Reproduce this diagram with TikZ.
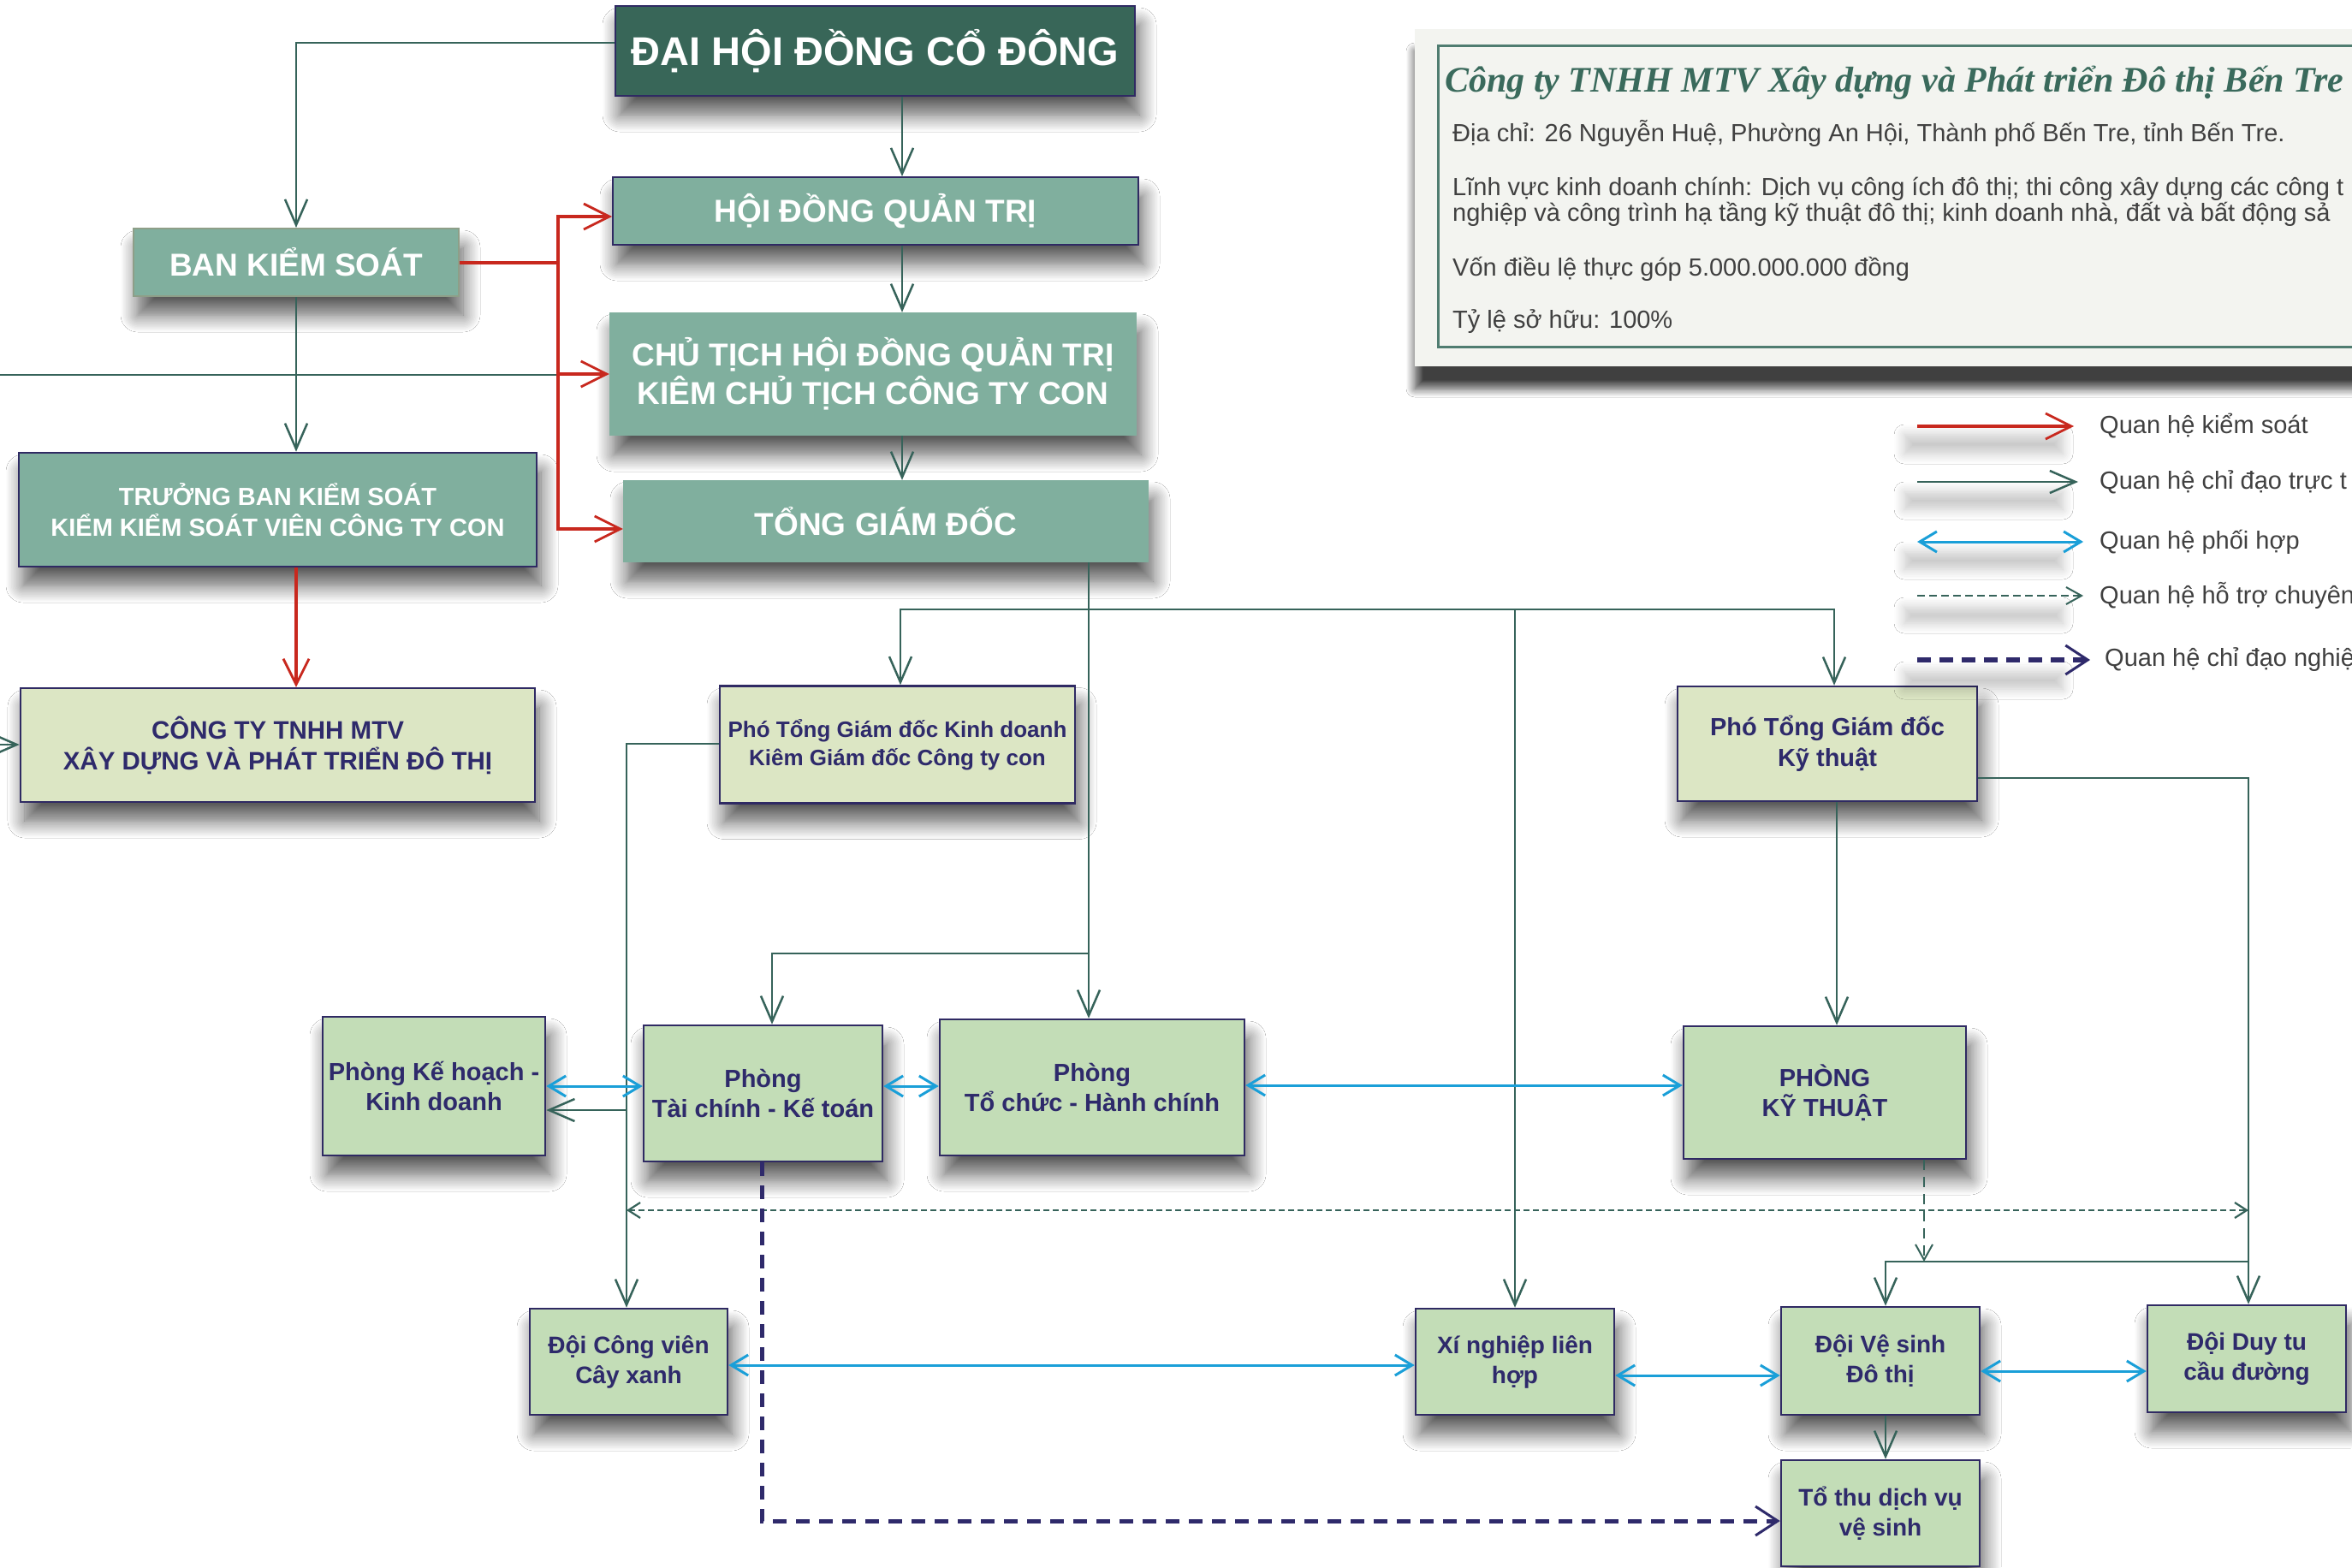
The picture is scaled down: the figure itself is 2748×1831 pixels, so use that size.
\documentclass[tikz,border=0pt]{standalone}
\usepackage{fontspec}
\setmainfont{Liberation Sans}
\newfontfamily\ttlfont{Liberation Serif}
\usetikzlibrary{arrows.meta,shadows.blur,calc}
\definecolor{cDark}{HTML}{386658}
\definecolor{cMid}{HTML}{80AF9E}
\definecolor{cLite}{HTML}{DCE6C4}
\definecolor{cGrn}{HTML}{C3DDB7}
\definecolor{cBorder}{HTML}{2F2A63}
\definecolor{cText}{HTML}{2E2A6B}
\definecolor{cTeal}{HTML}{36635A}
\definecolor{cRed}{HTML}{C8281E}
\definecolor{cBlue}{HTML}{1A9FD8}
\definecolor{cPurp}{HTML}{2F2A6B}
\definecolor{cPanel}{HTML}{F3F4F0}
\definecolor{cPanelLine}{HTML}{4F7C70}
\definecolor{cTitle}{HTML}{3A6A5C}
\definecolor{cGray}{HTML}{404040}
\definecolor{cBksLine}{HTML}{8E9E88}
\tikzset{
  base/.style={rectangle, inner sep=0pt, align=center},
  shd/.style={blur shadow={shadow xshift=5pt, shadow yshift=-22pt, shadow blur radius=20pt, shadow blur steps=14, shadow opacity=65}},
  legshd/.style={blur shadow={shadow xshift=0pt, shadow yshift=0pt, shadow blur radius=12pt, shadow blur steps=8, shadow opacity=22}},
  darkbox/.style={base, shd, fill=cDark, draw=cBorder, line width=2pt, text=white},
  midbox/.style={base, shd, fill=cMid, text=white},
  litebox/.style={base, shd, fill=cLite, draw=cBorder, line width=2.5pt, text=cText},
  grnbox/.style={base, shd, fill=cGrn, draw=cBorder, line width=2.5pt, text=cText},
  ctl/.style={draw=cTeal, line width=2.5pt, -{Straight Barb[length=30pt,width=26pt]}},
  ctlline/.style={draw=cTeal, line width=2.5pt},
  redline/.style={draw=cRed, line width=4.5pt},
  redarr/.style={draw=cRed, line width=4.5pt, -{Straight Barb[length=30pt,width=30pt,line width=2.8pt]}},
  bluearr/.style={draw=cBlue, line width=3pt, {Straight Barb[length=20pt,width=24pt]}-{Straight Barb[length=20pt,width=24pt]}},
  dotarr/.style={draw=cTeal, line width=2.2pt, dash pattern=on 7pt off 4pt, {Straight Barb[length=14pt,width=18pt]}-{Straight Barb[length=14pt,width=18pt]}},
  dasharr/.style={draw=cTeal, line width=2pt, dash pattern=on 12pt off 8pt, -{Straight Barb[length=18pt,width=20pt]}},
  purparr/.style={draw=cPurp, line width=5pt, dash pattern=on 16pt off 11pt, -{Straight Barb[length=26pt,width=34pt,line width=3pt]}},
  infotxt/.style={anchor=base west, inner sep=0pt, text=cGray, font=\fontsize{29}{30}\selectfont},
  legtxt/.style={anchor=west, inner sep=0pt, text=cGray, font=\fontsize{29}{30}\selectfont},
}
\begin{document}
\begin{tikzpicture}[x=1pt,y=-1pt]
\useasboundingbox (0,0) rectangle (2748,1831);
\fill[white] (0,0) rectangle (2748,1831);

% ---------- info panel ----------
\fill[cPanel, blur shadow={shadow xshift=0pt, shadow yshift=-26pt, shadow blur radius=10pt, shadow blur steps=10, shadow opacity=75}] (1653,34) rectangle (2790,428);
\draw[cPanelLine, line width=3pt] (1680,53) rectangle (2800,405);
\node[anchor=base west, inner sep=0pt, text=cTitle, font=\ttlfont\fontsize{42}{46}\selectfont\bfseries\itshape] (title) at (1688,107) {Công ty TNHH MTV Xây dựng và Phát triển Đô thị Bến Tre};
\node[infotxt] (addr) at (1697,165) {Địa chỉ: 26 Nguyễn Huệ, Phường An Hội, Thành phố Bến Tre, tỉnh Bến Tre.};
\node[infotxt] (lv1) at (1697,228) {Lĩnh vực kinh doanh chính: Dịch vụ công ích đô thị; thi công xây dựng các công t};
\node[infotxt] (lv2) at (1697,258) {nghiệp và công trình hạ tầng kỹ thuật đô thị; kinh doanh nhà, đất và bất động sả};
\node[infotxt] (von) at (1697,322) {Vốn điều lệ thực góp 5.000.000.000 đồng};
\node[infotxt] (tyle) at (1697,383) {Tỷ lệ sở hữu: 100\%};

% ---------- nodes ----------
\node[darkbox, minimum width=607pt, minimum height=105pt, font=\fontsize{47}{54}\selectfont\bfseries] (dhdcd) at (1022.5,59.5) {ĐẠI HỘI ĐỒNG CỔ ĐÔNG};
\node[midbox, draw=cBorder, line width=2pt, minimum width=614pt, minimum height=79pt, font=\fontsize{37}{44}\selectfont\bfseries] (hdqt) at (1023,246.5) {HỘI ĐỒNG QUẢN TRỊ};
\node[midbox, draw=cBksLine, line width=2pt, minimum width=380pt, minimum height=79pt, font=\fontsize{37}{44}\selectfont\bfseries] (bks) at (346,306.5) {BAN KIỂM SOÁT};
\node[midbox, minimum width=616pt, minimum height=144pt, font=\fontsize{37}{45}\selectfont\bfseries] (ctht) at (1020,437) {CHỦ TỊCH HỘI ĐỒNG QUẢN TRỊ\\KIÊM CHỦ TỊCH CÔNG TY CON};
\node[midbox, minimum width=614pt, minimum height=96pt, font=\fontsize{37}{44}\selectfont\bfseries] (tgd) at (1035,609) {TỔNG GIÁM ĐỐC};
\node[midbox, draw=cBorder, line width=2.5pt, minimum width=605pt, minimum height=133pt, font=\fontsize{29}{36}\selectfont\bfseries] (tbks) at (324.5,595.5) {TRƯỞNG BAN KIỂM SOÁT\\KIỂM KIỂM SOÁT VIÊN CÔNG TY CON};
\node[litebox, minimum width=601pt, minimum height=133pt, font=\fontsize{29.5}{36}\selectfont\bfseries] (cty) at (324.5,870.5) {CÔNG TY TNHH MTV\\XÂY DỰNG VÀ PHÁT TRIỂN ĐÔ THỊ};
\node[litebox, minimum width=415pt, minimum height=137pt, font=\fontsize{26}{33}\selectfont\bfseries] (ptgdkd) at (1048.5,870) {Phó Tổng Giám đốc Kinh doanh\\Kiêm Giám đốc Công ty con};
\node[litebox, minimum width=350pt, minimum height=134pt, font=\fontsize{29}{36}\selectfont\bfseries] (ptgdkt) at (2135,869) {Phó Tổng Giám đốc\\Kỹ thuật};
\node[grnbox, minimum width=260pt, minimum height=162pt, font=\fontsize{29}{35}\selectfont\bfseries] (khkd) at (507,1269) {Phòng Kế hoạch -\\Kinh doanh};
\node[grnbox, minimum width=279pt, minimum height=159pt, font=\fontsize{29}{35}\selectfont\bfseries] (tckt) at (891.5,1277.5) {Phòng\\Tài chính - Kế toán};
\node[grnbox, minimum width=356pt, minimum height=159pt, font=\fontsize{29}{35}\selectfont\bfseries] (tchc) at (1276,1270.5) {Phòng\\Tổ chức - Hành chính};
\node[grnbox, minimum width=330pt, minimum height=155pt, font=\fontsize{29}{35}\selectfont\bfseries] (pkt) at (2132,1276.5) {PHÒNG\\KỸ THUẬT};
\node[grnbox, minimum width=231pt, minimum height=124pt, font=\fontsize{28}{35}\selectfont\bfseries] (dcv) at (734.5,1591) {Đội Công viên\\Cây xanh};
\node[grnbox, minimum width=232pt, minimum height=124pt, font=\fontsize{28}{35}\selectfont\bfseries] (xn) at (1770,1591) {Xí nghiệp liên\\hợp};
\node[grnbox, minimum width=232pt, minimum height=126pt, font=\fontsize{28}{35}\selectfont\bfseries] (dvs) at (2197,1590) {Đội Vệ sinh\\Đô thị};
\node[grnbox, minimum width=232pt, minimum height=125pt, font=\fontsize{28}{35}\selectfont\bfseries] (ddt) at (2625,1587.5) {Đội Duy tu\\cầu đường};
\node[grnbox, minimum width=232pt, minimum height=124pt, font=\fontsize{28}{35}\selectfont\bfseries] (tothu) at (2197,1768) {Tổ thu dịch vụ\\vệ sinh};

% ---------- helper coordinates ----------
\coordinate (Y50) at (0,50);
\coordinate (Y253) at (0,253);
\coordinate (Y618) at (0,618);
\coordinate (Y1268) at (0,1268);
\coordinate (Y1269) at (0,1269);
\coordinate (Y1297) at (0,1297);
\coordinate (Y1414) at (0,1414);
\coordinate (Y1595) at (0,1595);
\coordinate (Y1602) at (0,1602);
\coordinate (Y1607) at (0,1607);
\coordinate (X1052) at (1052,0);
\coordinate (X1054) at (1054,0);
\coordinate (X902) at (902,0);
\coordinate (X2143) at (2143,0);
\coordinate (X2146) at (2146,0);
\coordinate (X2203) at (2203,0);
\coordinate (X2248) at (2248,0);
\coordinate (rj) at (652,307);
\coordinate (lft1) at (0,438);
\coordinate (lft2) at (0,870);
\coordinate (hj) at (1272,712);
\coordinate (hj2) at (1272,1114);
\coordinate (vj) at (732,869);
\coordinate (rj2) at (2627,909);
\coordinate (rj3) at (2627,1474);
\coordinate (pj) at (890,1777);

% ---------- connectors ----------
\draw[ctl] (dhdcd.west |- Y50) -| (bks.north);
\draw[ctl] (dhdcd.south -| X1054) -- (hdqt.north -| X1054);
\draw[ctl] (hdqt.south -| X1054) -- (ctht.north -| X1054);
\draw[ctl] (ctht.south -| X1054) -- (tgd.north -| X1054);
\draw[ctl] (bks.south) -- (bks.south |- tbks.north);
\draw[ctlline] (lft1) -- (rj |- lft1);
\draw[ctl] (lft2) -- (cty.west |- lft2);
\draw[redline] (bks.east |- rj) -- (rj);
\draw[redarr] (rj) |- (hdqt.west |- Y253);
\draw[redarr] (rj) |- (ctht.west);
\draw[redarr] (rj) |- (tgd.west |- Y618);
\draw[redarr] (tbks.south -| bks.south) -- (cty.north -| bks.south);

\draw[ctl] (tgd.south -| hj) -- (tchc.north -| hj);
\draw[ctl] (hj) -| (ptgdkd.north -| X1052);
\draw[ctl] (hj) -| (ptgdkt.north -| X2143);
\draw[ctl] (hj -| xn.north) -- (xn.north);
\draw[ctl] (hj2) -| (tckt.north -| X902);
\draw[ctl] (ptgdkd.west |- vj) -| (dcv.north -| vj);
\draw[ctl] (vj |- Y1297) -- (khkd.east |- Y1297);
\draw[bluearr] (khkd.east |- Y1269) -- (tckt.west |- Y1269);
\draw[bluearr] (tckt.east |- Y1269) -- (tchc.west |- Y1269);
\draw[bluearr] (tchc.east |- Y1268) -- (pkt.west |- Y1268);
\draw[ctl] (ptgdkt.south -| X2146) -- (pkt.north -| X2146);
\draw[ctl] (ptgdkt.east |- rj2) -| (ddt.north -| rj2);
\draw[ctl] (rj3) -| (dvs.north -| X2203);
\draw[dasharr] (pkt.south -| X2248) -- (rj3 -| X2248);
\draw[dotarr] (vj |- Y1414) -- (rj2 |- Y1414);
\draw[bluearr] (dcv.east |- Y1595) -- (xn.west |- Y1595);
\draw[bluearr] (xn.east |- Y1607) -- (dvs.west |- Y1607);
\draw[bluearr] (dvs.east |- Y1602) -- (ddt.west |- Y1602);
\draw[ctl] (dvs.south -| X2203) -- (tothu.north -| X2203);
\draw[purparr] (tckt.south -| pj) -- (pj) -- (tothu.west |- pj);

% ---------- legend ----------
\path[legshd] (2225,508) rectangle (2410,530);
\path[legshd] (2225,575) rectangle (2410,595);
\path[legshd] (2225,645) rectangle (2410,665);
\path[legshd] (2225,710) rectangle (2410,728);
\path[legshd] (2225,785) rectangle (2410,805);
\coordinate (La1) at (2240,498); \coordinate (Lb1) at (2423,498);
\coordinate (La2) at (2240,563); \coordinate (Lb2) at (2428,563);
\coordinate (La3) at (2240,633); \coordinate (Lb3) at (2434,633);
\coordinate (La4) at (2240,696); \coordinate (Lb4) at (2434,696);
\coordinate (La5) at (2240,771); \coordinate (Lb5) at (2442,771);
\draw[redarr] (La1) -- (Lb1);
\draw[ctl] (La2) -- (Lb2);
\draw[bluearr] (La3) -- (Lb3);
\draw[dasharr, dash pattern=on 9pt off 5pt] (La4) -- (Lb4);
\draw[purparr, line width=6pt, dash pattern=on 16pt off 10pt] (La5) -- (Lb5);
\node[legtxt] (lg1) at (2453,498) {Quan hệ kiểm soát};
\node[legtxt] (lg2) at (2453,563) {Quan hệ chỉ đạo trực t};
\node[legtxt] (lg3) at (2453,633) {Quan hệ phối hợp};
\node[legtxt] (lg4) at (2453,696) {Quan hệ hỗ trợ chuyên};
\node[legtxt] (lg5) at (2459,771) {Quan hệ chỉ đạo nghiệ};
\end{tikzpicture}
\end{document}
